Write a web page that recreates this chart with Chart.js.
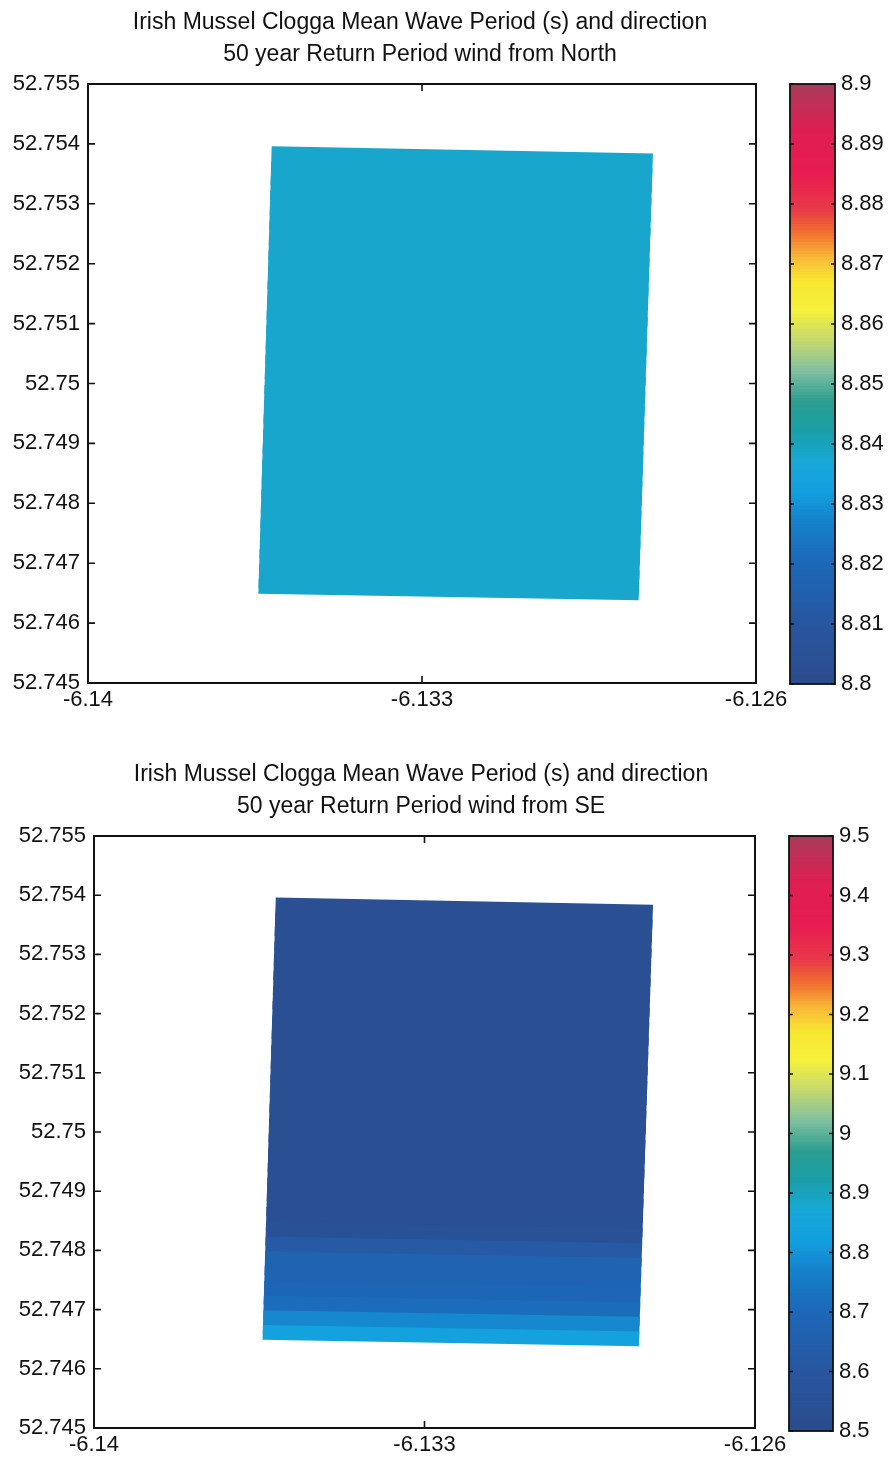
<!DOCTYPE html>
<html>
<head>
<meta charset="utf-8">
<title>Irish Mussel Clogga Mean Wave Period</title>
<script src="https://cdn.jsdelivr.net/npm/chart.js@4/dist/chart.umd.min.js"></script>
<style>
  html, body { margin: 0; padding: 0; background: #ffffff; }
  #page { position: relative; width: 889px; height: 1465px; overflow: hidden; background: #ffffff; }
  canvas { position: absolute; }
</style>
</head>
<body>
<div id="page">
  <canvas id="mapNorth"></canvas>
  <canvas id="barNorth"></canvas>
  <canvas id="mapSE"></canvas>
  <canvas id="barSE"></canvas>
</div>
<script>
// ---- axis ticks ----
const lonTicks  = [-6.14, -6.133, -6.126];
const lonLabels = ['-6.14', '-6.133', '-6.126'];
const latTicks  = [52.745, 52.746, 52.747, 52.748, 52.749, 52.75, 52.751, 52.752, 52.753, 52.754, 52.755];
const latLabels = ['52.745', '52.746', '52.747', '52.748', '52.749', '52.75', '52.751', '52.752', '52.753', '52.754', '52.755'];

// ---- model grid corners: NW, NE, SE, SW ----
const gridLon = [-6.13615, -6.12816, -6.12846, -6.13643];
const gridLat = [52.75396, 52.75384, 52.74638, 52.74649];

// ---- mean wave period (s) per grid row, north to south ----
const periodNorth = [8.838, 8.838, 8.838, 8.838, 8.838, 8.838, 8.838, 8.838, 8.838, 8.838,
                     8.838, 8.838, 8.838, 8.838, 8.838, 8.838, 8.838, 8.838, 8.838, 8.838,
                     8.838, 8.838, 8.838, 8.838, 8.838, 8.838, 8.838, 8.838, 8.838, 8.838];
const periodSE    = [8.53, 8.53, 8.53, 8.53, 8.53, 8.53, 8.53, 8.53, 8.53, 8.53,
                     8.53, 8.53, 8.53, 8.53, 8.53, 8.53, 8.53, 8.53, 8.53, 8.53,
                     8.53, 8.53, 8.55, 8.62, 8.67, 8.68, 8.69, 8.71, 8.78, 8.83];

// ---- colour bar ranges and ticks ----
const rangeNorth = [8.8, 8.9];
const rangeSE    = [8.5, 9.5];
const cbTicksNorth  = [8.8, 8.81, 8.82, 8.83, 8.84, 8.85, 8.86, 8.87, 8.88, 8.89, 8.9];
const cbLabelsNorth = ['8.8', '8.81', '8.82', '8.83', '8.84', '8.85', '8.86', '8.87', '8.88', '8.89', '8.9'];
const cbTicksSE     = [8.5, 8.6, 8.7, 8.8, 8.9, 9, 9.1, 9.2, 9.3, 9.4, 9.5];
const cbLabelsSE    = ['8.5', '8.6', '8.7', '8.8', '8.9', '9', '9.1', '9.2', '9.3', '9.4', '9.5'];

// ---- colour map (fraction of range -> colour) ----
const cmapStops = [
  [0.00, '#2b4c8c'], [0.10, '#2856a0'], [0.20, '#1c68b8'], [0.27, '#1582cc'],
  [0.32, '#13a0e0'], [0.37, '#17a8d6'], [0.42, '#1a9fa8'], [0.47, '#2c9e90'],
  [0.52, '#80c0a0'], [0.57, '#c4d870'], [0.62, '#f4f03c'], [0.67, '#f8e630'],
  [0.71, '#f8b838'], [0.75, '#f07030'], [0.79, '#e83848'], [0.85, '#e81c50'],
  [0.92, '#de1e52'], [1.00, '#a83c5c']
];

function hexToRgb(h) {
  return [parseInt(h.slice(1, 3), 16), parseInt(h.slice(3, 5), 16), parseInt(h.slice(5, 7), 16)];
}
function colourAt(t) {
  t = Math.max(0, Math.min(1, t));
  for (let i = 1; i < cmapStops.length; i++) {
    if (t <= cmapStops[i][0]) {
      const [t0, c0] = cmapStops[i - 1];
      const [t1, c1] = cmapStops[i];
      const f = (t - t0) / (t1 - t0);
      const a = hexToRgb(c0), b = hexToRgb(c1);
      const m = a.map((v, k) => Math.round(v + (b[k] - v) * f));
      return 'rgb(' + m.join(',') + ')';
    }
  }
  return cmapStops[cmapStops.length - 1][1];
}

const FONT = "'Liberation Sans', Arial, Helvetica, sans-serif";
const TEXT = '#111111';

// Draws the gridded field, the frame and inward tick marks.
const fieldPlugin = {
  id: 'waveField',
  beforeDatasetsDraw(chart) {
    const cfg = chart.options.plugins.waveField;
    const xs = chart.scales.x, ys = chart.scales.y;
    const area = chart.chartArea;
    const ctx = chart.ctx;
    const rows = cfg.rows;
    const n = rows.length;
    const lerp = (a, b, t) => a + (b - a) * t;
    ctx.save();
    ctx.beginPath();
    ctx.rect(area.left, area.top, area.right - area.left, area.bottom - area.top);
    ctx.clip();
    rows.forEach((v, r) => {
      // each row overlaps the next one a little; the next row paints over it
      const t0 = r / n, t1 = Math.min(1, (r + 1.6) / n);
      const pts = [
        [lerp(gridLon[0], gridLon[3], t0), lerp(gridLat[0], gridLat[3], t0)],
        [lerp(gridLon[1], gridLon[2], t0), lerp(gridLat[1], gridLat[2], t0)],
        [lerp(gridLon[1], gridLon[2], t1), lerp(gridLat[1], gridLat[2], t1)],
        [lerp(gridLon[0], gridLon[3], t1), lerp(gridLat[0], gridLat[3], t1)]
      ].map(p => [xs.getPixelForValue(p[0]), ys.getPixelForValue(p[1])]);
      const col = colourAt((v - cfg.range[0]) / (cfg.range[1] - cfg.range[0]));
      ctx.beginPath();
      ctx.moveTo(pts[0][0], pts[0][1]);
      for (let i = 1; i < 4; i++) ctx.lineTo(pts[i][0], pts[i][1]);
      ctx.closePath();
      ctx.fillStyle = col;
      ctx.fill();
    });
    ctx.restore();
  },
  afterDraw(chart) {
    const xs = chart.scales.x, ys = chart.scales.y;
    const a = chart.chartArea;
    const ctx = chart.ctx;
    ctx.save();
    ctx.strokeStyle = '#111';
    ctx.lineWidth = 1.6;
    lonTicks.forEach(v => {
      const px = xs.getPixelForValue(v);
      ctx.beginPath();
      ctx.moveTo(px, a.bottom); ctx.lineTo(px, a.bottom - 7);
      ctx.moveTo(px, a.top); ctx.lineTo(px, a.top + 7);
      ctx.stroke();
    });
    latTicks.forEach(v => {
      const py = ys.getPixelForValue(v);
      ctx.beginPath();
      ctx.moveTo(a.left, py); ctx.lineTo(a.left + 7, py);
      ctx.moveTo(a.right, py); ctx.lineTo(a.right - 7, py);
      ctx.stroke();
    });
    ctx.lineWidth = 2;
    ctx.strokeRect(a.left, a.top, a.right - a.left, a.bottom - a.top);
    ctx.restore();
  }
};

// Frame and inward tick marks on the colour bar.
const barFramePlugin = {
  id: 'barFrame',
  afterDraw(chart) {
    const ys = chart.scales.y;
    const a = chart.chartArea;
    const ctx = chart.ctx;
    ctx.save();
    ctx.strokeStyle = '#111';
    ctx.lineWidth = 1.4;
    ys.ticks.forEach(t => {
      const py = ys.getPixelForValue(t.value);
      ctx.beginPath();
      ctx.moveTo(a.left, py); ctx.lineTo(a.left + 4, py);
      ctx.moveTo(a.right, py); ctx.lineTo(a.right - 4, py);
      ctx.stroke();
    });
    ctx.lineWidth = 1.8;
    ctx.strokeRect(a.left, a.top, a.right - a.left, a.bottom - a.top);
    ctx.restore();
  }
};

function placeCanvas(id, left, top, w, h) {
  const c = document.getElementById(id);
  c.width = w; c.height = h;
  c.style.left = left + 'px'; c.style.top = top + 'px';
  c.style.width = w + 'px'; c.style.height = h + 'px';
  return c;
}

function makeMap(id, top, spec) {
  const width = spec.leftW + spec.plotW + spec.rightW;
  const canvas = placeCanvas(id, 0, top, width, spec.height);
  return new Chart(canvas, {
    type: 'scatter',
    data: { datasets: [{ label: 'Mean wave period', data: [], pointRadius: 0 }] },
    plugins: [fieldPlugin],
    options: {
      responsive: false,
      animation: false,
      events: [],
      layout: { padding: { top: 0, left: 0, right: 0, bottom: 7 } },
      plugins: {
        legend: { display: false },
        tooltip: { enabled: false },
        title: {
          display: true,
          text: spec.title,
          color: TEXT,
          font: { family: FONT, size: 23, weight: 'normal', lineHeight: 32 / 23 },
          padding: { top: 7, bottom: 13 }
        },
        waveField: { rows: spec.rows, range: spec.range }
      },
      scales: {
        x: {
          type: 'linear', min: lonTicks[0], max: lonTicks[lonTicks.length - 1],
          afterBuildTicks: s => { s.ticks = lonTicks.map(v => ({ value: v })); },
          afterFit: s => { s.height = 40; },
          grid: { display: false, drawTicks: false },
          border: { display: false },
          ticks: {
            autoSkip: false, maxRotation: 0, padding: 4, color: TEXT,
            font: { family: FONT, size: 22 },
            callback: (v, i) => lonLabels[i]
          }
        },
        y: {
          type: 'linear', position: 'left', min: latTicks[0], max: latTicks[latTicks.length - 1],
          afterBuildTicks: s => { s.ticks = latTicks.map(v => ({ value: v })); },
          afterFit: s => { s.width = spec.leftW; },
          grid: { display: false, drawTicks: false },
          border: { display: false },
          ticks: {
            autoSkip: false, padding: 8, color: TEXT,
            font: { family: FONT, size: 22 },
            callback: (v, i) => latLabels[i]
          }
        },
        y2: {
          type: 'linear', position: 'right', min: latTicks[0], max: latTicks[latTicks.length - 1],
          afterFit: s => { s.width = spec.rightW; },
          grid: { display: false, drawTicks: false },
          border: { display: false },
          ticks: { display: false }
        }
      }
    }
  });
}

function makeColourBar(id, left, top, spec) {
  const canvas = placeCanvas(id, left, top, 30 + spec.barW + 54, spec.height);
  const [lo, hi] = spec.range;
  const steps = 200;
  const datasets = [];
  for (let i = 0; i < steps; i++) {
    const a = lo + (hi - lo) * i / steps;
    const b = lo + (hi - lo) * (i + 1) / steps;
    datasets.push({
      label: 'level ' + i,
      data: [[a, b]],
      backgroundColor: colourAt((i + 0.5) / steps),
      borderWidth: 0,
      inflateAmount: 1,
      barPercentage: 1,
      categoryPercentage: 1,
      grouped: false
    });
  }
  return new Chart(canvas, {
    type: 'bar',
    data: { labels: [''], datasets },
    plugins: [barFramePlugin],
    options: {
      responsive: false,
      animation: false,
      events: [],
      layout: { padding: { top: spec.padTop, left: 30, right: 0, bottom: spec.padBottom } },
      plugins: { legend: { display: false }, tooltip: { enabled: false }, title: { display: false } },
      scales: {
        x: { display: false },
        y: {
          position: 'right', min: lo, max: hi,
          afterBuildTicks: s => { s.ticks = spec.ticks.map(v => ({ value: v })); },
          afterFit: s => { s.width = 54; },
          grid: { display: false, drawTicks: false },
          border: { display: false },
          ticks: {
            autoSkip: false, padding: 6, color: TEXT,
            font: { family: FONT, size: 22 },
            callback: (v, i) => spec.labels[i]
          }
        }
      }
    }
  });
}

// Upper panel: wind from North
makeMap('mapNorth', 0, {
  title: ['Irish Mussel Clogga Mean Wave Period (s) and direction', '50 year Return Period wind from North'],
  leftW: 88, plotW: 668, rightW: 84, height: 730,
  rows: periodNorth, range: rangeNorth
});
makeColourBar('barNorth', 760, 0, {
  barW: 45, height: 730, padTop: 84, padBottom: 46,
  range: rangeNorth, ticks: cbTicksNorth, labels: cbLabelsNorth
});

// Lower panel: wind from SE
makeMap('mapSE', 752, {
  title: ['Irish Mussel Clogga Mean Wave Period (s) and direction', '50 year Return Period wind from SE'],
  leftW: 94, plotW: 661, rightW: 87, height: 723,
  rows: periodSE, range: rangeSE
});
makeColourBar('barSE', 759, 752, {
  barW: 44, height: 725, padTop: 84, padBottom: 46,
  range: rangeSE, ticks: cbTicksSE, labels: cbLabelsSE
});
</script>
</body>
</html>
